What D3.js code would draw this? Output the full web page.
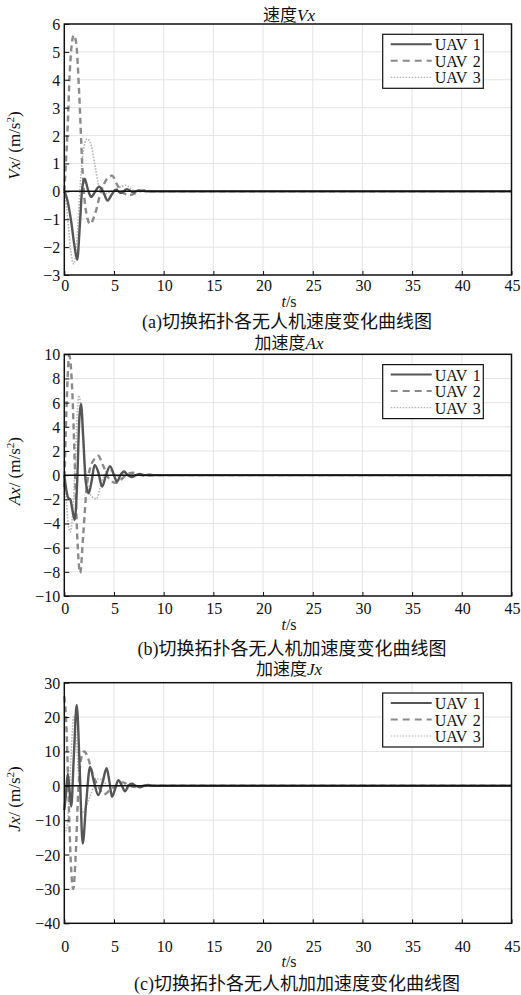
<!DOCTYPE html>
<html>
<head>
<meta charset="utf-8">
<script src="https://cdn.jsdelivr.net/npm/d3@7"></script>
<style>
body { margin: 0; background: #fff; }
text { font-family: "Liberation Serif", "Noto Sans CJK SC", serif; fill: #111; }
</style>
</head>
<body>
<script>
// données : [t, valeur]
const timeTicks = [0, 5, 10, 15, 20, 25, 30, 35, 40, 45];
const vxTicks = [-3, -2, -1, 0, 1, 2, 3, 4, 5, 6];
const axTicks = [-10, -8, -6, -4, -2, 0, 2, 4, 6, 8, 10];
const jxTicks = [-40, -30, -20, -10, 0, 10, 20, 30];
const uavNames = ["UAV 1", "UAV 2", "UAV 3"];

const vxUav1 = [[0,0],[0.3,-0.3],[0.7,-1.1],[1.0,-1.9],[1.3,-2.45],[1.55,-1.3],[1.8,0.1],[2.05,0.45],[2.35,0.1],[2.7,-0.2],[3.1,-0.02],[3.5,0.17],[3.9,0],[4.35,-0.33],[4.8,-0.1],[5.2,0.06],[5.7,-0.06],[6.3,0.08],[6.9,-0.03],[7.5,0.03],[8.2,0],[45,0]];
const vxUav2 = [[0,0],[0.3,2.0],[0.6,4.6],[0.95,5.6],[1.2,5.3],[1.5,3.5],[1.8,1.0],[2.1,-0.5],[2.6,-1.17],[3.1,-0.8],[3.7,0],[4.3,0.45],[4.8,0.56],[5.3,0.25],[5.9,-0.05],[6.6,-0.13],[7.3,-0.05],[8.1,0.04],[8.8,0],[45,0]];
const vxUav3 = [[0,0],[0.3,-0.8],[0.6,-2.0],[0.95,-2.6],[1.3,-1.6],[1.6,0.2],[1.9,1.4],[2.3,1.88],[2.7,1.65],[3.1,0.9],[3.5,0.15],[3.9,-0.1],[4.4,-0.05],[5.0,0.05],[5.6,0.15],[6.2,0.22],[6.7,0.1],[7.2,0],[8.0,0.02],[8.6,0],[45,0]];

const axUav1 = [[0,0],[0.2,-1.2],[0.4,-1.9],[0.6,-2.0],[0.8,-2.8],[1.05,-3.7],[1.3,-0.5],[1.5,4.5],[1.68,5.9],[1.9,3.2],[2.15,-0.5],[2.45,-1.5],[2.75,-0.5],[3.05,0.85],[3.4,0.3],[3.8,-0.95],[4.2,0],[4.6,0.75],[5.0,0],[5.3,-0.55],[5.65,0],[6.0,0.3],[6.4,0],[6.8,-0.15],[7.2,0],[7.6,0.1],[8.1,0],[8.6,0.03],[9,0],[45,0]];
const axUav2 = [[0,-1],[0.2,5],[0.5,9.9],[0.8,7],[1.05,1],[1.3,-5],[1.6,-8.1],[1.9,-5],[2.25,-1],[2.6,0.6],[3.0,1.3],[3.4,1.6],[3.9,0.8],[4.5,-0.3],[5.2,-0.63],[5.8,-0.3],[6.3,0.05],[6.9,0.2],[7.5,0.05],[8.2,-0.05],[9,0],[45,0]];
const axUav3 = [[0,0],[0.2,-2],[0.4,-4],[0.6,-4.7],[0.85,-3],[1.1,1],[1.3,5],[1.48,6.6],[1.7,5],[2.0,1.5],[2.4,-1],[2.8,-1.8],[3.26,-1.95],[3.6,-1],[4.0,0],[4.4,0.45],[4.9,0.2],[5.4,-0.1],[6.0,0.1],[6.6,0.05],[7.2,0],[45,0]];

const jxUav1 = [[0,-7],[0.15,-3],[0.35,3.5],[0.55,-2],[0.7,-6],[0.95,8],[1.25,23.5],[1.55,5],[1.85,-16.8],[2.2,-5],[2.59,5.5],[3.0,1],[3.42,-2.7],[3.85,1],[4.26,5.1],[4.55,1],[4.8,-3.2],[5.1,-1],[5.44,1.66],[5.8,0],[6.1,-1.6],[6.45,0],[6.8,0.6],[7.2,0],[7.6,-0.4],[8.0,0],[8.4,0.25],[8.9,0],[45,0]];
const jxUav2 = [[0,26],[0.2,18],[0.4,0],[0.65,-22],[0.9,-30],[1.15,-20],[1.4,-2],[1.7,8],[2.0,10],[2.4,8],[2.9,3],[3.4,0],[4.0,-2.5],[4.5,-1.5],[5.2,0],[5.9,1.0],[6.6,0],[7.3,-0.4],[8,0],[45,0]];
const jxUav3 = [[0,-12],[0.2,-13],[0.45,-6],[0.7,10],[0.95,20],[1.2,14],[1.5,0],[1.8,-8],[2.2,-6],[2.6,-3],[3.0,0],[3.4,2],[3.9,1.5],[4.4,0],[5,-0.5],[5.6,0],[6.3,0.3],[7,0],[45,0]];

// mise en page des trois sous-figures
const panels = [
  {top: 24, bottom: 275, ticks: vxTicks, series: [vxUav1, vxUav2, vxUav3], name: "速度", sym: "Vx",
   tickY: 291, tY: 307, capY: 328, capX: 287, caption: "(a)切换拓扑各无人机速度变化曲线图", titleY: 21},
  {top: 354.3, bottom: 596, ticks: axTicks, series: [axUav1, axUav2, axUav3], name: "加速度", sym: "Ax",
   tickY: 614, tY: 630, capY: 655, capX: 292, caption: "(b)切换拓扑各无人机加速度变化曲线图", titleY: 348.5},
  {top: 682.7, bottom: 923.3, ticks: jxTicks, series: [jxUav1, jxUav2, jxUav3], name: "加速度", sym: "Jx",
   tickY: 952, tY: 967, capY: 990, capX: 297, caption: "(c)切换拓扑各无人机加加速度变化曲线图", titleY: 675}
];

const styles = [
  {color: "#555", width: 2.4, dash: null},
  {color: "#8a8a8a", width: 2.4, dash: "6,4"},
  {color: "#b3b3b3", width: 1.6, dash: "1.5,1.5"}
];

const left = 64.3, right = 511.5;

let canevas = d3.select("body")
    .append("svg")
    .attr("width", 521)
    .attr("height", 995);

const x = d3.scaleLinear().domain([0, 45]).range([left, right]);

panels.forEach(p => {
    const y = d3.scaleLinear()
        .domain([d3.min(p.ticks), d3.max(p.ticks)])
        .range([p.bottom, p.top]);
    const g = canevas.append("g");

    // grille
    g.selectAll("line.gx")
        .data(timeTicks.slice(1, -1))
        .enter().append("line")
        .attr("x1", d => x(d)).attr("x2", d => x(d))
        .attr("y1", p.top).attr("y2", p.bottom)
        .style("stroke", "#e4e4e4").style("stroke-width", 1);
    g.selectAll("line.gy")
        .data(p.ticks.slice(1, -1))
        .enter().append("line")
        .attr("x1", left).attr("x2", right)
        .attr("y1", d => y(d)).attr("y2", d => y(d))
        .style("stroke", "#e4e4e4").style("stroke-width", 1);

    // courbes
    const line = d3.line()
        .x(d => x(d[0]))
        .y(d => y(d[1]))
        .curve(d3.curveMonotoneX);
    [2, 1, 0].forEach(i => {
        g.append("path")
            .datum(p.series[i])
            .attr("d", line)
            .style("fill", "none")
            .style("stroke", styles[i].color)
            .style("stroke-width", styles[i].width)
            .style("stroke-dasharray", styles[i].dash);
    });

    // ligne zéro
    g.append("line")
        .attr("x1", left).attr("x2", right)
        .attr("y1", y(0)).attr("y2", y(0))
        .style("stroke", "#111").style("stroke-width", 1.5);

    // axes
    const ax = g.append("g")
        .attr("transform", `translate(0, ${p.bottom})`)
        .call(d3.axisBottom(x).tickValues(timeTicks).tickSizeInner(-4).tickSizeOuter(0).tickPadding(0));
    ax.select(".domain").remove();
    ax.selectAll("text").remove();
    ax.selectAll("line").style("stroke", "#111");
    g.selectAll("text.tx")
        .data(timeTicks)
        .enter().append("text")
        .attr("x", d => x(d) + 1)
        .attr("y", p.tickY)
        .attr("text-anchor", "middle")
        .style("font-size", "16px")
        .text(d => d);

    const ay = g.append("g")
        .attr("transform", `translate(${left}, 0)`)
        .call(d3.axisLeft(y).tickValues(p.ticks).tickSizeInner(-5).tickSizeOuter(0).tickPadding(4));
    ay.select(".domain").remove();
    ay.selectAll("line").style("stroke", "#111");
    ay.selectAll("text")
        .style("font-size", "16px")
        .style("font-family", "Liberation Serif")
        .style("fill", "#111")
        .attr("dy", "0.34em");

    // cadre
    g.append("rect")
        .attr("x", left).attr("y", p.top)
        .attr("width", right - left).attr("height", p.bottom - p.top)
        .style("fill", "none").style("stroke", "#111").style("stroke-width", 1.5);

    // titre
    const t = g.append("text")
        .attr("x", 289).attr("y", p.titleY)
        .attr("text-anchor", "middle")
        .style("font-size", "17px");
    t.append("tspan").text(p.name);
    t.append("tspan").style("font-style", "italic").text(p.sym);

    // étiquette de l'axe y
    const yl = g.append("text")
        .attr("transform", `translate(20, ${(p.top + p.bottom) / 2 - 4}) rotate(-90)`)
        .attr("text-anchor", "middle")
        .style("font-size", "17px");
    yl.append("tspan").style("font-style", "italic").text(p.sym);
    yl.append("tspan").text("/ (m/s");
    yl.append("tspan").attr("dy", -6).style("font-size", "11px").text("2");
    yl.append("tspan").attr("dy", 6).text(")");

    // t/s et légende de la figure
    const tl = g.append("text")
        .attr("x", 289).attr("y", p.tY)
        .attr("text-anchor", "middle")
        .style("font-size", "16px");
    tl.append("tspan").style("font-style", "italic").text("t");
    tl.append("tspan").text("/s");

    g.append("text")
        .attr("x", p.capX).attr("y", p.capY)
        .attr("text-anchor", "middle")
        .style("font-size", "18px")
        .text(p.caption);

    // légende
    const lx = 382.7, ly = p.top + 10.3;
    g.append("rect")
        .attr("x", lx).attr("y", ly)
        .attr("width", 100.6).attr("height", 54)
        .style("fill", "#fff").style("stroke", "#111").style("stroke-width", 1.2);
    uavNames.forEach((n, i) => {
        const ry = ly + 10 + i * 16.5;
        g.append("line")
            .attr("x1", lx + 8).attr("x2", lx + 49)
            .attr("y1", ry).attr("y2", ry)
            .style("stroke", styles[i].color)
            .style("stroke-width", i == 2 ? 1.2 : 2)
            .style("stroke-dasharray", i == 1 ? "7,5" : styles[i].dash);
        const lt = g.append("text")
            .attr("y", ry + 6)
            .style("font-size", "16px");
        lt.append("tspan")
            .attr("x", lx + 52)
            .text(n.split(" ")[0]);
        lt.append("tspan")
            .attr("x", lx + 90)
            .text(n.split(" ")[1]);
    });
});
</script>
</body>
</html>
